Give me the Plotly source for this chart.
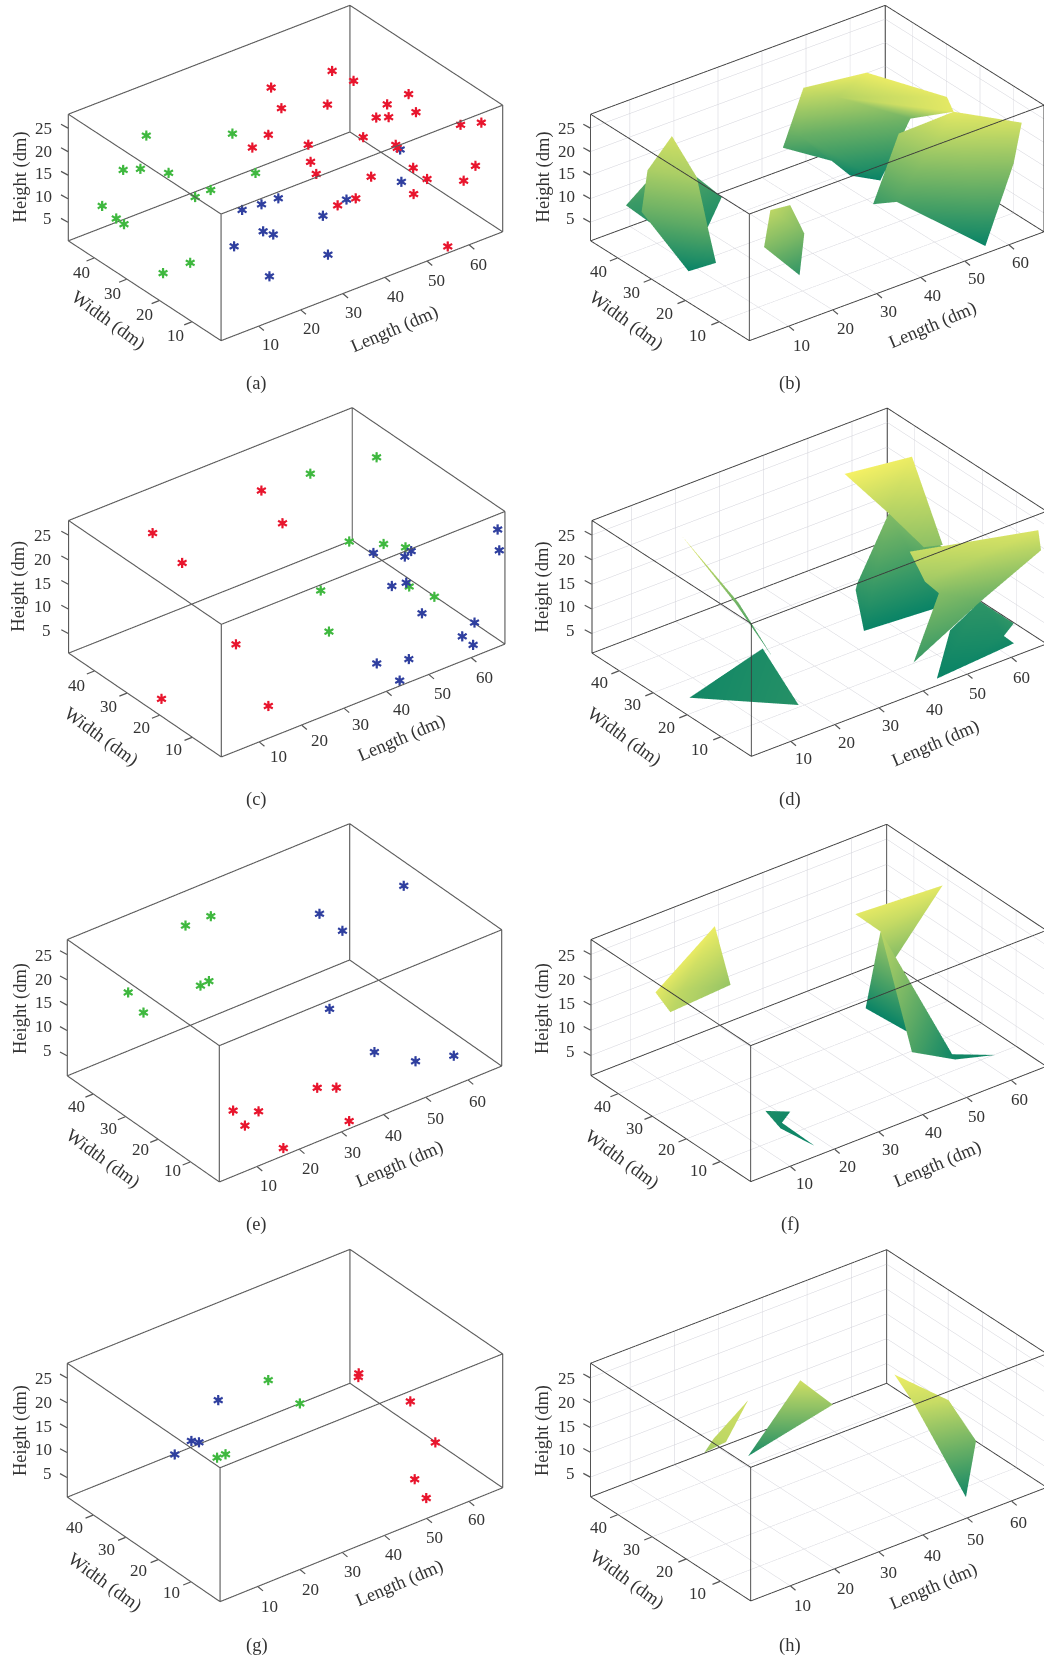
import math
import plotly.graph_objects as go

W, H = 1044, 1662
LENGTH_TICKS = [10, 20, 30, 40, 50, 60]
WIDTH_TICKS = [10, 20, 30, 40]
HEIGHT_TICKS = [5, 10, 15, 20, 25]
X_RANGE, Y_RANGE, Z_RANGE = [1, 68], [1, 48], [1, 28]
SERIES_COLORS = {'green': '#3fb83f', 'blue': '#2f3f9f', 'red': '#e8152d'}
SUMMER = [[0, '#007f66'], [1, '#f6f164']]

# ---- scatter panels: (length, width, height)
a_green = [(12.6,39,23.5),(7.1,39,18.1),(8.1,35,19.8),(11.7,31,19.5),(5.2,43,9.3),(7,41,6.9),(7.3,39,6.5),(34.6,41,15.4),(33.9,33,10.9),(21.7,31,12.4),(21.1,35,9.3),(9.1,21,5.8),(4.2,23,4.4)]
a_blue = [(16.8,15,17.1),(21.4,15,16.7),(25.4,15,16.6),(11.8,11,12.9),(18.7,11,13.7),(21.1,11,12.2),(17.1,7,6.5),(31,7,6.3),(32.9,11,12.1),(38.5,11,13.6),(52.8,13,18.4),(50,9,14.3)]
a_red = [(40.7,37,24.9),(41.6,35,21.1),(52.1,33,26.3),(54.1,29,25.3),(47.9,29,22.4),(35.4,31,19.4),(31.6,31,18),(41.8,27,16.9),(40.8,25,14.5),(40.6,23,12.9),(50.2,21,18.3),(53.3,21,21.4),(54.7,19,21.9),(55.9,21,23.3),(57.9,17,26.6),(58.1,15,23.6),(53.3,15,18.3),(52.1,13,19),(52.8,9,16.3),(56.1,9,12.8),(52.9,9,10.7),(45.9,13,15),(40.7,11,13.1),(36.4,11,13.1),(62.5,7,23),(65.9,5,23.2),(64.5,5,14.5),(61.7,5,12.3),(55.6,2,1.8)]

c_green = [(63.7,35,25.2),(49.6,37,25.8),(51.1,27,16),(54.6,21,17),(56.7,17,17.4),(41.3,23,11.2),(54.5,13,12),(58.9,11,9.3),(37.1,15,7.9)]
c_red = [(39.6,39,24.9),(41.5,35,19.4),(17,43,22.2),(20.9,39,16.6),(16.7,17,11.4),(2.2,21,3.5),(15.9,6,4.1)]
c_blue = [(67.3,2.5,23.9),(67.3,2,19.9),(52.2,21,16),(56.5,15,17.6),(55,15,17),(50.4,13,13.5),(53.8,13,13),(52.9,7,9.8),(63,4,5.8),(60.1,4,4),(61.9,3,2.1),(47.5,4,3.7),(40.7,5,4.7),(43.8,2,1.5)]

e_green = [(31.2,43,24.5),(25.2,43,24.7),(24.6,35,17.5),(22.6,35,17.3),(7,37,20.4),(9.1,35,16.6)]
e_blue = [(65.4,28,25.5),(46.2,29,26.1),(50.1,27,22.3),(40.9,19,13.6),(45.4,11,7.1),(51.3,6,5.5),(59.6,5,4.2)]
e_red = [(30.3,9,6.1),(33.3,7,6),(11.9,11,7),(16.4,9,6.2),(12.4,8,5.2),(16.9,2,1.9),(32.5,2,1.9)]

g_red = [(52.3,25,18.7),(52.2,25,18),(56.8,15,16),(58.1,9,10),(50.9,6,6.4),(52.1,4,3.1)]
g_green = [(35.5,31,20.4),(39.9,27,16),(20.3,27,11.8),(22.3,27,11.8)]
g_blue = [(25.2,33,19),(17.3,31,14.4),(19.1,31,13.5),(14.9,33,11.6)]

# ---- surface panels: vertices (length, width, height) and triangles
b_left_v = [(13,39.5,23),(6,37.6,19),(3.2,35.7,12),(7.1,26.9,2),(10.8,23.6,4),(10.3,25.4,11),(11.5,30.2,19)]
b_left_t = [(0,1,6),(1,2,6),(2,5,6),(2,3,5),(3,4,5)]
b_back_v = [(7.8,46.3,7),(12.4,45.7,11),(22.2,44.1,9),(24.5,39.7,6),(17.8,35.1,4),(10.2,37.8,4)]
b_back_t = [(0,1,2),(0,2,5),(2,3,4),(2,4,5)]
b_small_v = [(12.4,9.6,21),(18.5,11.7,19),(19.4,8.7,14),(17.8,8,6),(9.5,7.7,15)]
b_small_t = [(0,1,2),(0,2,4),(4,2,3)]
b_big_v = [(42.8,39.4,23),(52.1,32.8,26),(59.1,18.2,25),(56.7,13.1,25),(48.7,37.2,20),(61.8,32.5,13),(43.2,41.1,12),(55.2,32.8,2),(52,37.6,2),(51.4,39.2,4),(41.2,43.4,9)]
b_big_t = [(0,1,4),(1,2,4),(2,3,4),(4,3,5),(0,4,6),(4,5,6),(6,5,7),(6,7,8),(6,8,9),(6,9,10),(10,6,0)]
b_right_v = [(56.7,13.1,25),(66.1,5.2,23),(63.1,3.7,16),(55.3,1.9,2),(45.2,14.9,9),(43.4,19.6,7),(50.3,21,19)]
b_right_t = [(0,1,2),(0,2,3),(0,3,4),(0,4,6),(6,4,5)]

d_sliver_v = [(12.6,36.5,26),(19.5,29.7,13),(20.1,29.6,13),(20.6,20.3,6)]
d_sliver_t = [(0,1,2),(1,2,3)]
d_low_v = [(3,21.8,3),(23.2,26.5,4),(14.8,5,5)]
d_low_t = [(0,1,2)]
d_fold_v = [(48.4,35.1,27),(62.9,34.1,26),(58.7,19.6,16),(55.5,21,16),(53.6,28.9,20)]
d_fold_t = [(0,1,4),(1,4,3),(1,3,2)]
d_mid_v = [(59,35.9,15),(47.8,30.6,7),(47.2,30.3,6),(43.7,23.3,2),(59.9,21.9,2),(62.6,24.7,12)]
d_mid_t = [(0,1,2),(0,2,3),(0,3,4),(0,4,5)]
d_front_v = [(46,12.8,22),(66.9,2.1,24),(67.2,1.7,20),(38.4,1.8,7),(48.6,7.6,15),(45.9,8.2,18),(55.9,4.9,12)]
d_front_t = [(0,1,5),(5,1,4),(4,1,2),(4,2,6),(4,6,3)]
d_under_v = [(43.6,1.7,2),(61.3,2,3),(60.4,3.8,4),(62.4,3.5,6),(62.4,13.4,6),(54,11.3,4)]
d_under_t = [(0,1,2),(0,2,4),(2,3,4),(0,4,5)]

f_left_v = [(23.7,41,26),(23.1,35.6,17),(4.3,28.9,21),(2.1,30.4,25),(10.8,33.8,21)]
f_left_t = [(0,3,4),(3,2,4),(0,4,1),(4,2,1)]
f_small_v = [(15.1,15,4),(19.6,13.5,3),(16,11.3,3),(16.8,2.6,2),(14.6,9.9,3)]
f_small_t = [(0,1,2),(0,2,4),(2,3,4)]
f_top_v = [(47.4,30.5,25),(66,29,25),(54.4,27.9,15),(51.6,28.5,21)]
f_top_t = [(0,1,3),(3,1,2)]
f_back_v = [(54.8,32.7,18),(53.6,35.5,2),(54.5,24.5,2),(54.5,26.5,10)]
f_back_t = [(0,1,2),(0,2,3)]
f_front_v = [(51.6,28.5,21),(43.2,8.4,9),(55,11.9,3),(54.3,10.1,3),(61,7,3)]
f_front_t = [(0,1,2),(1,3,2),(2,3,4)]

h_sliver_v = [(20.7,27.3,23),(9.6,23,21),(9.6,25.7,17),(10.6,20.7,21)]
h_sliver_t = [(0,1,3),(1,2,3)]
h_mid_v = [(32.5,27.3,23),(38.3,25.3,17),(29.1,38.2,4)]
h_mid_t = [(0,1,2)]
h_right_v = [(43.9,14.5,26),(50.3,6.9,22),(55.1,5.1,13),(52.2,4.3,3),(44.4,9.1,22)]
h_right_t = [(0,1,4),(4,1,2),(4,2,3)]

# ---- panel layout in px; lab = tick label anchors (first/last) for length, width, height
PANELS = {
 'a': dict(O=(221,341),X=(282,109),Y=(153,100),Zh=127,L=(394,329.3),Wt=(108.3,320.7),Ht=(20.7,176.7),cap=(256.7,383.3),dom=(0,560,0,400),off=(0,0),
           lab=((811,1033,1435,795),(527,1005,243,817),(657,385,137))),
 'b': dict(O=(749.3,341),X=(295,109),Y=(159,100),Zh=127,L=(932,325),Wt=(626,320.7),Ht=(543.7,176.7),cap=(789.7,383.3),dom=(565,1044,0,400),off=(522,0),
           lab=((838,1035,1495,787),(525,1005,230,815),(657,385,138))),
 'c': dict(O=(221.3,757.3),X=(284,113),Y=(153,104),Zh=133,L=(401,738.3),Wt=(100.7,736.7),Ht=(19,586.7),cap=(256.7,799.3),dom=(0,560,400,800),off=(0,400),
           lab=((835,1070,1452,832),(520,1048,230,855),(692,407,133))),
 'd': dict(O=(751.3,756.7),X=(295.6,112.6),Y=(159.6,103.4),Zh=133,L=(935.3,743.3),Wt=(623.7,736.7),Ht=(542.7,586.7),cap=(789.7,799.3),dom=(565,1044,400,800),off=(522,400),
           lab=((843,1075,1498,832),(532,1048,232,848),(692,407,138))),
 'e': dict(O=(219.3,1182.3),X=(282.7,116),Y=(152.3,106.3),Zh=136.7,L=(399,1164.3),Wt=(102.7,1158.3),Ht=(20.7,1008.3),cap=(256.7,1224.3),dom=(0,560,815,1215),off=(0,820),
           lab=((805,1097,1433,845),(518,1052,228,860),(690,407,137))),
 'f': dict(O=(750.7,1182),X=(296,115.4),Y=(160,106.3),Zh=136.4,L=(937,1164.3),Wt=(622,1159.3),Ht=(542.7,1008.3),cap=(789.7,1224.3),dom=(565,1044,815,1215),off=(522,820),
           lab=((848,1090,1492,838),(528,1052,240,860),(695,407,140))),
 'g': dict(O=(220,1602),X=(283,114),Y=(153,104.7),Zh=134.3,L=(399,1583.7),Wt=(105,1582),Ht=(20.7,1430.3),cap=(256.7,1645.3),dom=(0,560,1240,1640),off=(0,1242),
           lab=((808,1093,1428,833),(513,1050,223,857),(695,410,135))),
 'h': dict(O=(750.7,1601.3),X=(296.4,113.7),Y=(160.4,104.3),Zh=134,L=(933.7,1586.3),Wt=(627,1579.3),Ht=(542.7,1430.3),cap=(789.7,1645.3),dom=(565,1044,1240,1640),off=(522,1242),
           lab=((840,1090,1490,842),(527,1055,230,857),(695,410,138))),
}
SCATTERS = {'a': dict(green=a_green,blue=a_blue,red=a_red), 'c': dict(green=c_green,red=c_red,blue=c_blue),
            'e': dict(green=e_green,blue=e_blue,red=e_red), 'g': dict(red=g_red,green=g_green,blue=g_blue)}
SURFACES = {'b': [(b_back_v,b_back_t),(b_left_v,b_left_t),(b_small_v,b_small_t),(b_big_v,b_big_t),(b_right_v,b_right_t)],
            'd': [(d_low_v,d_low_t),(d_sliver_v,d_sliver_t),(d_mid_v,d_mid_t),(d_fold_v,d_fold_t),(d_under_v,d_under_t),(d_front_v,d_front_t)],
            'f': [(f_left_v,f_left_t),(f_small_v,f_small_t),(f_top_v,f_top_t),(f_back_v,f_back_t),(f_front_v,f_front_t)],
            'h': [(h_sliver_v,h_sliver_t),(h_mid_v,h_mid_t),(h_right_v,h_right_t)]}

FONT = 'Liberation Serif'
TXT = '#333333'
DIST = 2.0
INSET = 0.04

def box_edges():
    x0, x1 = X_RANGE[0]+INSET, X_RANGE[1]-INSET
    y0, y1 = Y_RANGE[0]+INSET, Y_RANGE[1]-INSET
    z0, z1 = Z_RANGE[0]+INSET, Z_RANGE[1]-INSET
    xs, ys, zs = [], [], []
    seq = [((x0,y0,z0),(x1,y0,z0)),((x1,y0,z0),(x1,y1,z0)),((x1,y1,z0),(x0,y1,z0)),((x0,y1,z0),(x0,y0,z0)),
           ((x0,y0,z1),(x1,y0,z1)),((x1,y0,z1),(x1,y1,z1)),((x1,y1,z1),(x0,y1,z1)),((x0,y1,z1),(x0,y0,z1)),
           ((x0,y0,z0),(x0,y0,z1)),((x1,y0,z0),(x1,y0,z1)),((x1,y1,z0),(x1,y1,z1)),((x0,y1,z0),(x0,y1,z1))]
    for p, q in seq:
        xs += [p[0], q[0], None]; ys += [p[1], q[1], None]; zs += [p[2], q[2], None]
    return xs, ys, zs

def axis(rng, vals, grid):
    return dict(range=rng, tickvals=vals, ticks='', showticklabels=False,
                showline=False, showgrid=grid, gridcolor='#d0d0d8', gridwidth=1,
                zeroline=False, showbackground=False, showspikes=False, title=dict(text=''))

def view(p):
    Xu, Xv = p['X']; Yu, Yv = p['Y']; Zh = p['Zh']
    r1, r2 = Xv/Xu, Yv/Yu
    e = math.sqrt(r1*r2); t = math.atan(math.sqrt(r1/r2))
    s, c = math.sin(t), math.cos(t); C = math.sqrt(1-e*e)
    Lx, Ly, Lz = Xu/c, Yu/s, Zh/C
    x0, x1, y0, y1 = p['dom']; hh = y1-y0
    k = hh/DIST
    right = (c, -s, 0); up = (s*e, c*e, C); d = (-s*C, -c*C, e)
    Ox, Oy = p['O']
    px = Ox + (Xu-Yu)/2; py = Oy - (Xv+Yv+Zh)/2
    dr = px-(x0+x1)/2; du = (y0+y1)/2-py
    u = hh/DIST
    ce = [-(dr*right[i]+du*up[i])/u for i in range(3)]
    eye = [ce[i]+d[i]*DIST for i in range(3)]
    return dict(aspectmode='manual', aspectratio=dict(x=Lx/k,y=Ly/k,z=Lz/k),
                camera=dict(projection=dict(type='orthographic'),
                            eye=dict(x=eye[0],y=eye[1],z=eye[2]),center=dict(x=ce[0],y=ce[1],z=ce[2]),up=dict(x=0,y=0,z=1)),
                domain=dict(x=[x0/W,x1/W],y=[1-y1/H,1-y0/H]))

fig = go.Figure()
ann = []
def note(text,x,y,size,angle=0,xa='center',ya='middle'):
    ann.append(dict(text=text,x=x/W,y=1-y/H,xref='paper',yref='paper',showarrow=False,textangle=angle,xanchor=xa,yanchor=ya,
                    font=dict(family=FONT,size=size,color=TXT)))
def tick(x,y,dx,dy):
    ann.append(dict(text=' ',x=x/W,y=1-y/H,xref='paper',yref='paper',showarrow=True,arrowhead=0,arrowwidth=1.2,arrowcolor='#555555',
                    ax=dx,ay=dy,standoff=0,startstandoff=0,font=dict(size=1),borderpad=0,borderwidth=0))

bx, by, bz = box_edges()
for idx,(name,p) in enumerate(PANELS.items()):
    scene = 'scene' if idx==0 else f'scene{idx+1}'
    grid = name in SURFACES
    cfg = view(p)
    cfg.update(xaxis=axis(X_RANGE,LENGTH_TICKS,grid),yaxis=axis(Y_RANGE,WIDTH_TICKS,grid),zaxis=axis(Z_RANGE,HEIGHT_TICKS,grid),bgcolor='rgba(0,0,0,0)')
    fig.update_layout({scene:cfg})
    if name in SCATTERS:
        for col,pts in SCATTERS[name].items():
            fig.add_trace(go.Scatter3d(x=[q[0] for q in pts],y=[q[1] for q in pts],z=[q[2] for q in pts],mode='text',
                                       text=['✱']*len(pts),textposition='middle center',
                                       textfont=dict(size=14,color=SERIES_COLORS[col],family='DejaVu Sans'),scene=scene,hoverinfo='skip'))
    else:
        for vs,ts in SURFACES[name]:
            fig.add_trace(go.Mesh3d(x=[q[0] for q in vs],y=[q[1] for q in vs],z=[q[2] for q in vs],
                                    i=[t[0] for t in ts],j=[t[1] for t in ts],k=[t[2] for t in ts],
                                    intensity=[q[2] for q in vs],colorscale=SUMMER,cmin=1,cmax=27,showscale=False,
                                    lighting=dict(ambient=1,diffuse=0,specular=0,roughness=1,fresnel=0),scene=scene,hoverinfo='skip'))
    fig.add_trace(go.Scatter3d(x=bx,y=by,z=bz,mode='lines',line=dict(color='#5a5a5a' if not grid else '#3a3a3a',width=2.2 if not grid else 1.8),scene=scene,hoverinfo='skip'))
    # axis ticks and text
    Ox,Oy=p['O']; Xu,Xv=p['X']; Yu,Yv=p['Y']; Zh=p['Zh']
    ox,oy=p['off']; (lx0,ly0,lx1,ly1),(wx0,wy0,wx1,wy1),(hy0,hy1,hxc)=p['lab']
    for i,v in enumerate(LENGTH_TICKS):
        f=i/(len(LENGTH_TICKS)-1)
        note(str(v),ox+(lx0+(lx1-lx0)*f)/3,oy+(ly0+(ly1-ly0)*f)/3,17)
        g=(v-X_RANGE[0])/(X_RANGE[1]-X_RANGE[0])
        tick(Ox+Xu*g,Oy-Xv*g,5,4.2)
    for i,v in enumerate(WIDTH_TICKS):
        f=i/(len(WIDTH_TICKS)-1)
        note(str(v),ox+(wx0+(wx1-wx0)*f)/3,oy+(wy0+(wy1-wy0)*f)/3,17)
        g=(v-Y_RANGE[0])/(Y_RANGE[1]-Y_RANGE[0])
        tick(Ox-Yu*g,Oy-Yv*g,-7.5,3)
    for i,v in enumerate(HEIGHT_TICKS):
        f=i/(len(HEIGHT_TICKS)-1)
        note(str(v),ox+hxc/3+8.7,oy+(hy0+(hy1-hy0)*f)/3,17,xa='right')
        g=(v-Z_RANGE[0])/(Z_RANGE[1]-Z_RANGE[0])
        tick(Ox-Yu,Oy-Yv-Zh*g,-7,-3.8)
    note('Length (dm)',*p['L'],18.5,angle=-23)
    note('Width (dm)',*p['Wt'],18.5,angle=36)
    note('Height (dm)',*p['Ht'],18.5,angle=-90)
    note(f'({name})',*p['cap'],18.5)

fig.update_layout(width=W,height=H,margin=dict(l=0,r=0,t=0,b=0),showlegend=False,paper_bgcolor='white',plot_bgcolor='white',annotations=ann)
fig.write_html('out.html', post_script="document.body.style.margin='0';", config={'displayModeBar':False})
